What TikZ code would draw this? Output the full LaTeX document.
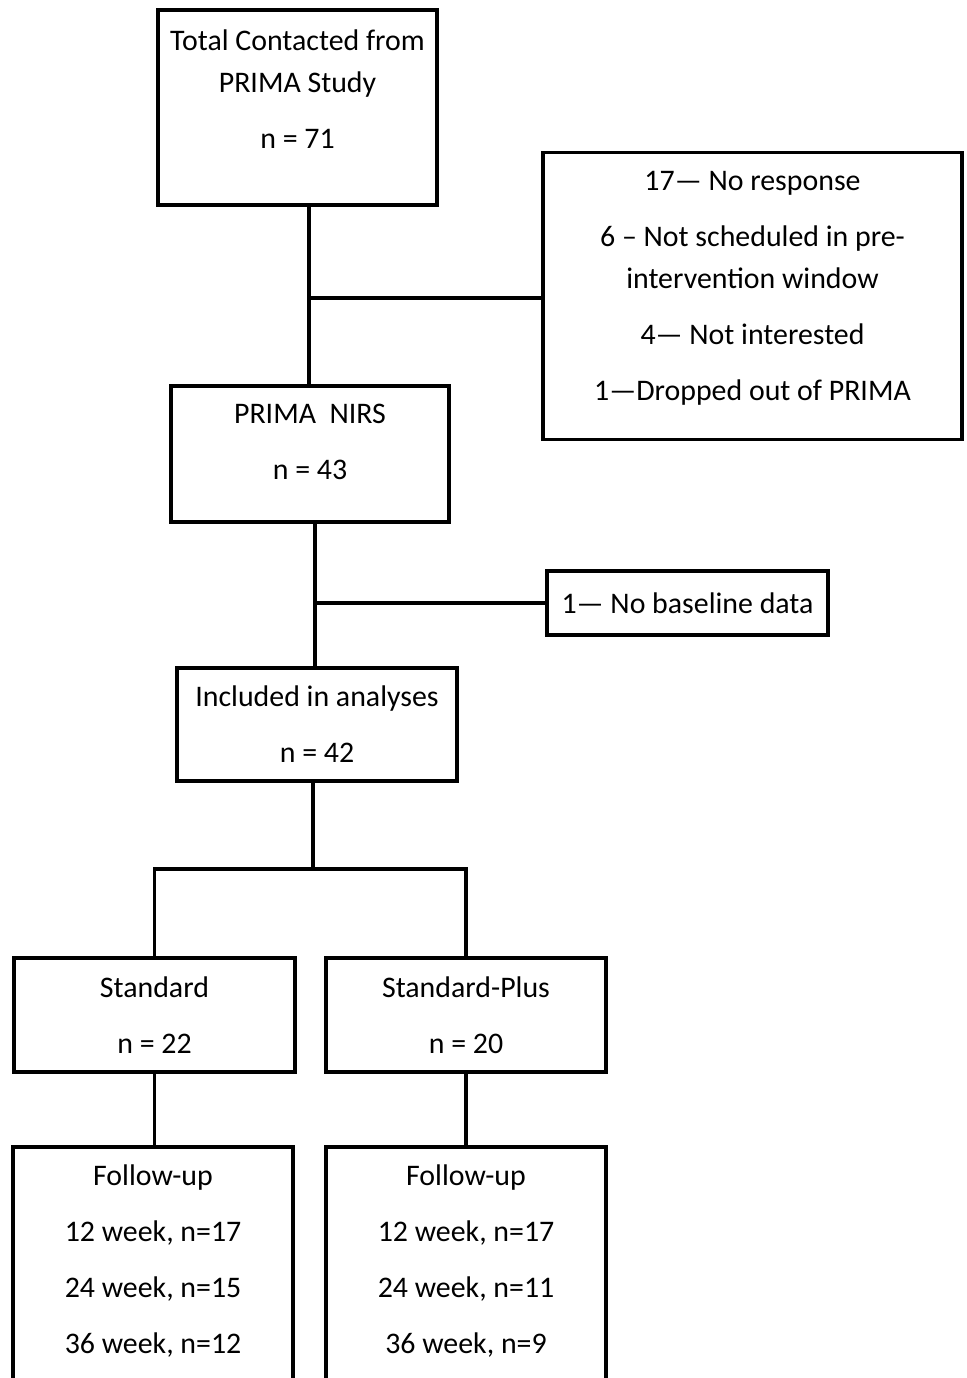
\documentclass[tikz,border=0pt]{standalone}
\usepackage{fontspec}
\setmainfont{Carlito}
\usetikzlibrary{positioning}

\tikzset{
    box/.style={draw, line width=1.8pt, inner sep=0pt},
    boxtext/.style={align=center, inner sep=0pt},
}

\begin{document}
\begin{tikzpicture}[x=0.02cm, y=-0.02cm, line width=1.8pt, font=\fontsize{17}{23.8}\selectfont]
    \useasboundingbox (0,0) rectangle (966,1378);
    \clip (0,0) rectangle (966,1378);

    % Total contacted
    \node[box, minimum width=5.58cm, minimum height=3.90cm] (total) at (297.5,107.5) {};
    \node[boxtext, below=0.40cm of total.north] (totaltxt) {Total Contacted from\\PRIMA Study\\[8pt]n = 71};

    % Excluded before NIRS
    \node[box, minimum width=8.38cm, minimum height=5.74cm] (excl) at (752.5,296) {};
    \node[boxtext, below=0.38cm of excl.north] (excltxt) {17\textemdash{} No response\\[8pt]6 \textendash{} Not scheduled in pre-\\intervention window\\[8pt]4\textemdash{} Not interested\\[8pt]1\textemdash{}Dropped out of PRIMA};

    % PRIMA NIRS
    \node[box, minimum width=5.56cm, minimum height=2.72cm] (nirs) at (310,454) {};
    \node[boxtext, below=0.36cm of nirs.north] (nirstxt) {PRIMA\ \ NIRS\\[8pt]n = 43};

    % No baseline
    \node[box, minimum width=5.62cm, minimum height=1.28cm] (base) at (687.5,603) {1\textemdash{} No baseline data};

    % Included
    \node[box, minimum width=5.60cm, minimum height=2.26cm] (incl) at (317,724.5) {};
    \node[boxtext, below=0.36cm of incl.north] (incltxt) {Included in analyses\\[8pt]n = 42};

    % Arms
    \node[box, minimum width=5.62cm, minimum height=2.28cm] (std) at (154.5,1015) {};
    \node[boxtext, below=0.38cm of std.north] (stdtxt) {Standard\\[8pt]n = 22};
    \node[box, minimum width=5.60cm, minimum height=2.28cm] (plus) at (466,1015) {};
    \node[boxtext, below=0.38cm of plus.north] (plustxt) {Standard-Plus\\[8pt]n = 20};

    % Follow-up
    \node[box, minimum width=5.60cm, minimum height=5.46cm] (fua) at (153,1283.5) {};
    \node[boxtext, below=0.36cm of fua.north] (fuatxt) {Follow-up\\[8pt]12 week, n=17\\[8pt]24 week, n=15\\[8pt]36 week, n=12};
    \node[box, minimum width=5.60cm, minimum height=5.46cm] (fub) at (466,1283.5) {};
    \node[boxtext, below=0.36cm of fub.north] (fubtxt) {Follow-up\\[8pt]12 week, n=17\\[8pt]24 week, n=11\\[8pt]36 week, n=9};

    % connectors
    \coordinate (j1) at (309,298);
    \coordinate (j2) at (315,603);
    \coordinate (j3) at (313,869);
    \draw (total.south -| j1) -- (nirs.north -| j1);
    \draw (j1) -- (j1 -| excl.west);
    \draw (nirs.south -| j2) -- (incl.north -| j2);
    \draw (j2) -- (base.west);
    \draw (incl.south -| j3) -- (j3);
    \draw (std.north) |- (j3) -| (plus.north);
    \draw (std.south) -- (std.south |- fua.north);
    \draw (plus.south) -- (plus.south |- fub.north);
\end{tikzpicture}
\end{document}
